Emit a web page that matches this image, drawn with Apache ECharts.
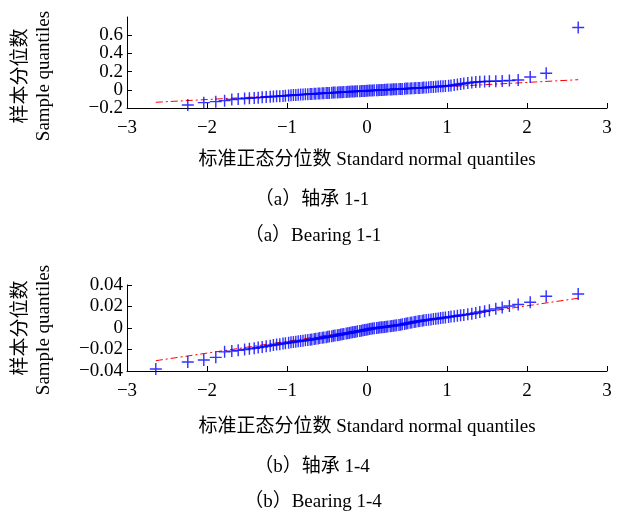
<!DOCTYPE html>
<html>
<head>
<meta charset="utf-8">
<script src="https://cdn.jsdelivr.net/npm/echarts@6/dist/echarts.min.js"></script>
<style>
  html, body { margin: 0; padding: 0; background: #fff; }
  #main { width: 622px; height: 515px; }
</style>
</head>
<body>
<div id="main"></div>
<script>
// theoretical quantiles (standard normal), shared by both plots
var normQ = [
  -2.64, -2.24, -2.04, -1.89, -1.78, -1.69, -1.61, -1.53, -1.47, -1.41,
  -1.36, -1.31, -1.26, -1.21, -1.17, -1.13, -1.09, -1.05, -1.02, -0.98,
  -0.95, -0.92, -0.89, -0.86, -0.83, -0.80, -0.77, -0.74, -0.71, -0.69,
  -0.66, -0.64, -0.61, -0.59, -0.56, -0.54, -0.51, -0.49, -0.47, -0.44,
  -0.42, -0.40, -0.37, -0.35, -0.33, -0.31, -0.29, -0.26, -0.24, -0.22,
  -0.20, -0.18, -0.16, -0.14, -0.12, -0.09, -0.07, -0.05, -0.03, -0.01,
  0.01, 0.03, 0.05, 0.07, 0.09, 0.12, 0.14, 0.16, 0.18, 0.20,
  0.22, 0.24, 0.26, 0.29, 0.31, 0.33, 0.35, 0.37, 0.40, 0.42,
  0.44, 0.47, 0.49, 0.51, 0.54, 0.56, 0.59, 0.61, 0.64, 0.66,
  0.69, 0.71, 0.74, 0.77, 0.80, 0.83, 0.86, 0.89, 0.92, 0.95,
  0.98, 1.02, 1.05, 1.09, 1.13, 1.17, 1.21, 1.26, 1.31, 1.36,
  1.41, 1.47, 1.53, 1.61, 1.69, 1.78, 1.89, 2.04, 2.24, 2.64
];

// sample quantiles, bearing 1-1
var sample11 = [
  -0.203, -0.167, -0.141, -0.130, -0.119, -0.106, -0.100, -0.096, -0.092, -0.089,
  -0.086, -0.083, -0.080, -0.077, -0.074, -0.072, -0.070, -0.067, -0.065, -0.062,
  -0.060, -0.058, -0.057, -0.055, -0.053, -0.052, -0.050, -0.048, -0.047, -0.046,
  -0.044, -0.043, -0.041, -0.040, -0.038, -0.037, -0.036, -0.035, -0.034, -0.032,
  -0.031, -0.030, -0.029, -0.028, -0.027, -0.026, -0.025, -0.023, -0.022, -0.021,
  -0.020, -0.019, -0.018, -0.017, -0.016, -0.015, -0.014, -0.013, -0.012, -0.011,
  -0.010, -0.009, -0.008, -0.007, -0.006, -0.005, -0.004, -0.003, -0.002, -0.001,
  0.000, 0.001, 0.002, 0.003, 0.004, 0.005, 0.006, 0.007, 0.008, 0.009,
  0.010, 0.012, 0.013, 0.014, 0.015, 0.016, 0.018, 0.019, 0.020, 0.021,
  0.023, 0.024, 0.026, 0.028, 0.030, 0.032, 0.034, 0.036, 0.038, 0.040,
  0.042, 0.045, 0.048, 0.052, 0.058, 0.064, 0.070, 0.075, 0.080, 0.085,
  0.088, 0.091, 0.093, 0.095, 0.098, 0.102, 0.108, 0.141, 0.181, 0.685
];

// sample quantiles, bearing 1-4
var sample14 = [
  -0.0381, -0.0316, -0.0298, -0.0273, -0.0222, -0.0215, -0.0208, -0.0200, -0.0194, -0.0188,
  -0.0182, -0.0176, -0.0170, -0.0164, -0.0159, -0.0154, -0.0150, -0.0145, -0.0141, -0.0137,
  -0.0133, -0.0130, -0.0127, -0.0124, -0.0121, -0.0118, -0.0115, -0.0112, -0.0109, -0.0106,
  -0.0103, -0.0100, -0.0097, -0.0094, -0.0091, -0.0088, -0.0085, -0.0082, -0.0079, -0.0076,
  -0.0073, -0.0070, -0.0067, -0.0064, -0.0061, -0.0058, -0.0055, -0.0052, -0.0049, -0.0046,
  -0.0043, -0.0040, -0.0037, -0.0034, -0.0031, -0.0028, -0.0025, -0.0022, -0.0019, -0.0016,
  -0.0013, -0.0010, -0.0008, -0.0005, -0.0003, 0.0000, 0.0002, 0.0004, 0.0006, 0.0008,
  0.0010, 0.0012, 0.0014, 0.0017, 0.0019, 0.0021, 0.0023, 0.0025, 0.0028, 0.0031,
  0.0034, 0.0038, 0.0041, 0.0044, 0.0048, 0.0051, 0.0055, 0.0058, 0.0062, 0.0065,
  0.0068, 0.0071, 0.0074, 0.0077, 0.0080, 0.0083, 0.0086, 0.0089, 0.0092, 0.0095,
  0.0098, 0.0102, 0.0106, 0.0110, 0.0114, 0.0118, 0.0122, 0.0127, 0.0133, 0.0140,
  0.0148, 0.0156, 0.0165, 0.0178, 0.0190, 0.0205, 0.0218, 0.0240, 0.0295, 0.0317
];

// reference lines (red dash-dot), end points
var refX = [-2.64, 2.64];
var ref11 = [-0.137, 0.111];
var ref14 = [-0.0304, 0.0277];

var xTicks = [-3, -2, -1, 0, 1, 2, 3];
var yTicks11 = [-0.2, 0, 0.2, 0.4, 0.6];
var yTicks14 = [-0.04, -0.02, 0, 0.02, 0.04];

var xName = '标准正态分位数 Standard normal quantiles';
var yName1 = '样本分位数';
var yName2 = 'Sample quantiles';
var captions = ['（a）轴承 1-1', '（a）Bearing 1-1', '（b）轴承 1-4', '（b）Bearing 1-4'];

var FONT = '"Liberation Serif", "Times New Roman", "Noto Sans CJK SC", serif';
var plus = 'path://M0,4.4H10V5.6H0Z M4.4,0H5.6V10H4.4Z';

function minusFmt(v) {
  return String(v).replace('-', '\u2212');
}

function pairs(xs, ys) {
  return xs.map(function (x, i) { return [x, ys[i]]; });
}

function labelStyle(values, margin) {
  return {
    customValues: values, formatter: minusFmt, color: '#000', fontFamily: FONT, fontSize: 19,
    margin: margin, showMinLabel: true, showMaxLabel: true, hideOverlap: false
  };
}

function xAxisOf(gi, gap) {
  return {
    gridIndex: gi, type: 'value', min: -3, max: 3, interval: 1,
    axisLine: { show: true, onZero: false, lineStyle: { color: '#000', width: 1 } },
    axisTick: { show: true, inside: true, length: 5, customValues: xTicks, lineStyle: { color: '#000' } },
    axisLabel: labelStyle(xTicks, 11),
    splitLine: { show: false },
    name: xName, nameLocation: 'middle', nameGap: gap,
    nameTextStyle: { color: '#000', fontFamily: FONT, fontSize: 19 }
  };
}

function yAxisOf(gi, min, max, ticks, labels, showLine) {
  return {
    gridIndex: gi, type: 'value', min: min, max: max, position: 'left', offset: 0,
    axisLine: { show: showLine, onZero: false, lineStyle: { color: '#000', width: 1 } },
    axisTick: { show: showLine, inside: true, length: 5, customValues: ticks, lineStyle: { color: '#000' } },
    axisLabel: labelStyle(labels, 4),
    splitLine: { show: false }
  };
}

// top plot labels are only 18px apart; split them over two stacked axes of the same scale
// so the library keeps every one of them
var topLabelsA = yTicks11.filter(function (v, i) { return i % 2 === 0; });
var topLabelsB = yTicks11.filter(function (v, i) { return i % 2 === 1; });

var chart = echarts.init(document.getElementById('main'), null, { renderer: 'canvas' });

var txt = { fill: '#000', font: '19px ' + FONT, textAlign: 'center', textVerticalAlign: 'middle' };
function label(text, x, y, rot) {
  return { type: 'text', x: x, y: y, rotation: rot || 0, style: Object.assign({ text: text }, txt) };
}

var option = {
  backgroundColor: '#fff',
  animation: false,
  grid: [
    { left: 127, top: 17, width: 480, height: 91 },
    { left: 127, top: 285, width: 480, height: 86 }
  ],
  xAxis: [xAxisOf(0, 43), xAxisOf(1, 47)],
  yAxis: [
    yAxisOf(0, -0.2, 0.8, yTicks11, topLabelsA, true),
    yAxisOf(0, -0.2, 0.8, yTicks11, topLabelsB, false),
    yAxisOf(1, -0.04, 0.04, yTicks14, yTicks14, true)
  ],
  series: [
    {
      type: 'line', xAxisIndex: 0, yAxisIndex: 0, data: pairs(refX, ref11),
      symbol: 'none', z: 1, lineStyle: { color: '#ff0000', width: 1, type: [7, 3, 2, 3] }
    },
    {
      type: 'scatter', xAxisIndex: 0, yAxisIndex: 0, data: pairs(normQ, sample11),
      symbol: plus, symbolSize: 12, z: 2, itemStyle: { color: '#0000ff' }
    },
    {
      type: 'line', xAxisIndex: 1, yAxisIndex: 2, data: pairs(refX, ref14),
      symbol: 'none', z: 1, lineStyle: { color: '#ff0000', width: 1, type: [7, 3, 2, 3] }
    },
    {
      type: 'scatter', xAxisIndex: 1, yAxisIndex: 2, data: pairs(normQ, sample14),
      symbol: plus, symbolSize: 12, z: 2, itemStyle: { color: '#0000ff' }
    }
  ],
  graphic: [
    label(yName1, 21, 76, Math.PI / 2),
    label(yName2, 44, 76, Math.PI / 2),
    label(yName1, 21, 328, Math.PI / 2),
    label(yName2, 44, 330, Math.PI / 2),
    label(captions[0], 312, 200),
    label(captions[1], 313, 236),
    label(captions[2], 312, 467),
    label(captions[3], 313, 502)
  ]
};

chart.setOption(option);
</script>
</body>
</html>
